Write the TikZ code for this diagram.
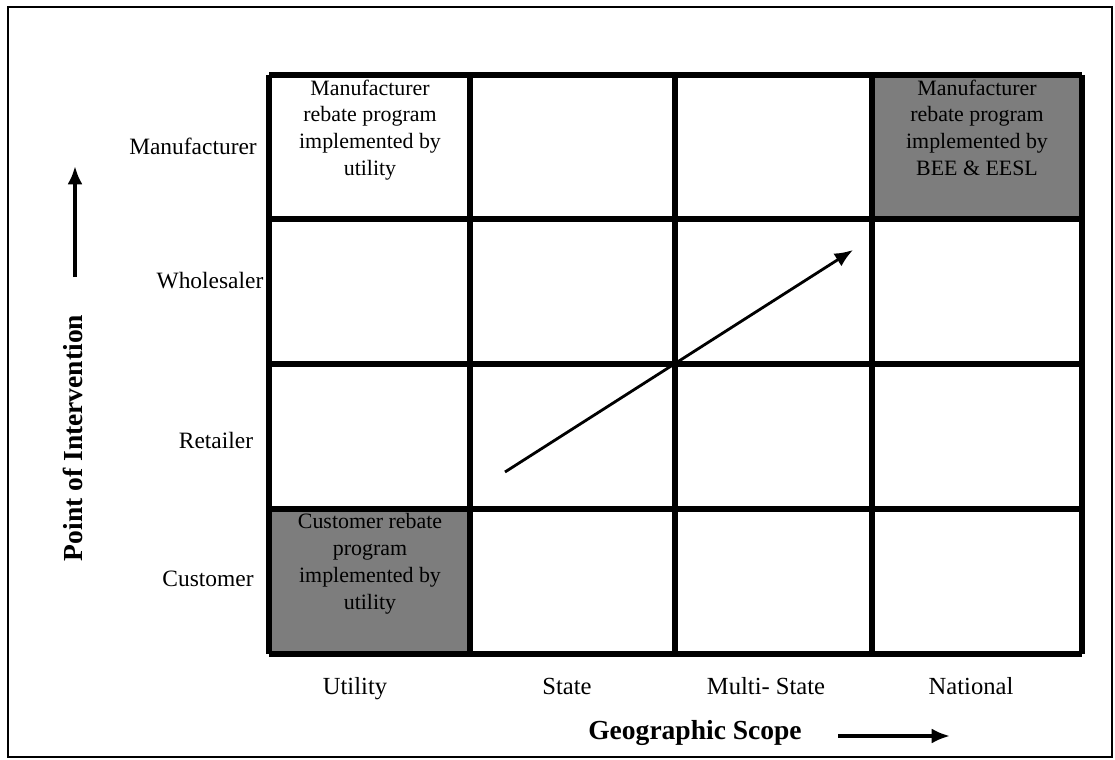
\documentclass[tikz,border=0pt]{standalone}
\usepackage{fontspec}
\setmainfont{Liberation Serif}
\usepackage{tikz}
\usetikzlibrary{arrows.meta}

\tikzset{
  gridline/.style={line width=4.4pt},
  rowlabel/.style={anchor=base, font=\fontsize{20}{24}\selectfont},
  collabel/.style={anchor=base, font=\fontsize{21}{25}\selectfont},
  celltext/.style={anchor=north, align=center, inner sep=2pt,
    font=\fontsize{18.7}{23}\selectfont},
  axislabel/.style={font=\fontsize{23.5}{28}\selectfont\bfseries},
  bigarrow/.style={-{Latex[length=0.55cm,width=0.45cm]}}
}

\begin{document}
\begin{tikzpicture}[x=0.03cm, y=-0.03cm]
  \useasboundingbox (0,0) rectangle (1115,760);
  \draw[line width=2.2pt] (8,7) rectangle (1112,757);

  % shaded cells
  \fill[gray!98!black] (872,75) rectangle (1082,219);
  \fill[gray!98!black] (269,509) rectangle (470,654);

  % grid
  \foreach \gx in {269,470,675,872,1082}
    \draw[gridline] (\gx,75) -- (\gx,654);
  \foreach \gy in {75,219,364,509,654}
    \draw[gridline] (269,\gy) -- (1082,\gy);

  % cell texts
  \node[celltext] (manuutil) at (370,77) {Manufacturer\\rebate program\\implemented by\\utility};
  \node[celltext] (manunat) at (977,77) {Manufacturer\\rebate program\\implemented by\\BEE \& EESL};
  \node[celltext] (custutil) at (370,511) {Customer rebate\\program\\implemented by\\utility};

  % row labels
  \node[rowlabel] (manu) at (193,155) {Manufacturer};
  \node[rowlabel] (whole) at (210,288) {Wholesaler};
  \node[rowlabel] (retail) at (216,448) {Retailer};
  \node[rowlabel] (cust) at (208,586) {Customer};

  % column labels
  \node[collabel] (util) at (355,694) {Utility};
  \node[collabel] (state) at (567,694) {State};
  \node[collabel] (multi) at (766,694) {Multi- State};
  \node[collabel] (nat) at (971,694) {National};

  % axis titles
  \node[axislabel] (scope) at (695,733) {Geographic Scope};
  \node[axislabel, rotate=90] (point) at (73,438) {Point of Intervention};

  % arrows
  \coordinate (diagstart) at (505,472);
  \coordinate (diagend) at (853,250);
  \draw[bigarrow, line width=2.4pt] (diagstart) -- (diagend);

  \coordinate (upstart) at (75,277);
  \coordinate (upend) at (75,166);
  \draw[bigarrow, line width=3pt] (upstart) -- (upend);

  \coordinate (rightstart) at (838,736);
  \coordinate (rightend) at (950,736);
  \draw[bigarrow, line width=3pt] (rightstart) -- (rightend);
\end{tikzpicture}
\end{document}
